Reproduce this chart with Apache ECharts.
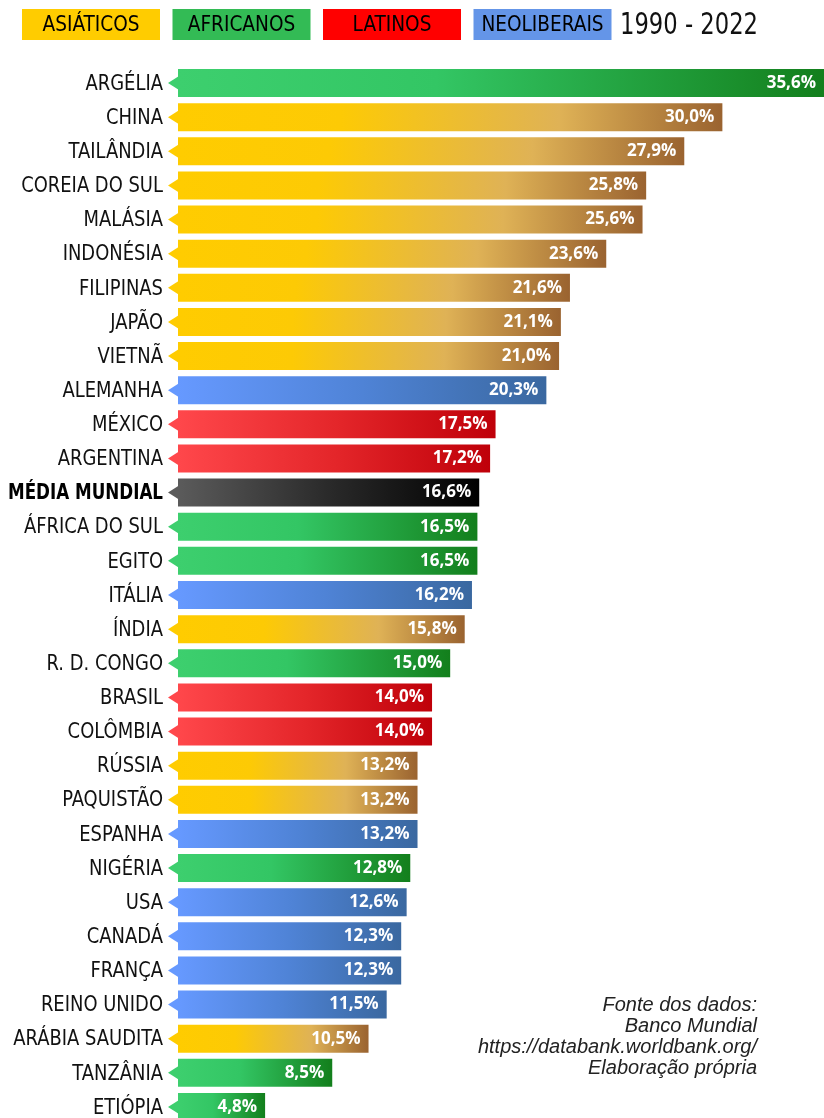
<!DOCTYPE html>
<html>
<head>
<meta charset="utf-8">
<script src="https://cdn.jsdelivr.net/npm/echarts@6/dist/echarts.min.js"></script>
<style>
html,body{margin:0;padding:0;background:#fff;overflow:hidden;}
#c{width:824px;height:1118px;}
</style>
</head>
<body>
<div id="c"></div>
<script>
const categories = ['ARGÉLIA','CHINA','TAILÂNDIA','COREIA DO SUL','MALÁSIA','INDONÉSIA','FILIPINAS','JAPÃO','VIETNÃ','ALEMANHA','MÉXICO','ARGENTINA','MÉDIA MUNDIAL','ÁFRICA DO SUL','EGITO','ITÁLIA','ÍNDIA','R. D. CONGO','BRASIL','COLÔMBIA','RÚSSIA','PAQUISTÃO','ESPANHA','NIGÉRIA','USA','CANADÁ','FRANÇA','REINO UNIDO','ARÁBIA SAUDITA','TANZÂNIA','ETIÓPIA'];
const values = [35.6,30.0,27.9,25.8,25.6,23.6,21.6,21.1,21.0,20.3,17.5,17.2,16.6,16.5,16.5,16.2,15.8,15.0,14.0,14.0,13.2,13.2,13.2,12.8,12.6,12.3,12.3,11.5,10.5,8.5,4.8];
const groups = ['AFR','ASI','ASI','ASI','ASI','ASI','ASI','ASI','ASI','NEO','LAT','LAT','MED','AFR','AFR','NEO','ASI','AFR','LAT','LAT','ASI','ASI','NEO','AFR','NEO','NEO','NEO','NEO','ASI','AFR','AFR'];
const legendNames = ['ASIÁTICOS','AFRICANOS','LATINOS','NEOLIBERAIS'];
const period = '1990 - 2022';
const sourceLines = ['Fonte dos dados:','Banco Mundial','https://databank.worldbank.org/','Elaboração própria'];

const palette = {
  ASI: [[0,'#FFCC00'],[0.3,'#FDCA05'],[0.7,'#DFB256'],[1,'#9A6330']],
  AFR: [[0,'#3DCF6E'],[0.4,'#33C664'],[1,'#137F1C']],
  LAT: [[0,'#FF474B'],[0.5,'#E4262A'],[1,'#BF0009']],
  NEO: [[0,'#6699FF'],[0.5,'#4F83D6'],[1,'#3A68A0']],
  MED: [[0,'#5B5B5B'],[0.5,'#2A2A2A'],[1,'#000000']]
};
const legendColors = ['#FFCC00','#33BB55','#FF0000','#6495E8'];

// pick a condensed font if installed, and squeeze text to the reference widths
const mctx = document.createElement('canvas').getContext('2d');
function textW(t, font){ mctx.font = font; return mctx.measureText(t).width; }
function hasFont(f){
  return textW('ABCÉMmw1290','40px monospace') !== textW('ABCÉMmw1290','40px "'+f+'", monospace');
}
const condCandidates = ['Liberation Sans Narrow','Arial Narrow','DejaVu Sans Condensed','Roboto Condensed','Open Sans Condensed'];
let labFont = 'Liberation Sans';
for (const f of condCandidates) { if (hasFont(f)) { labFont = f; break; } }
const F = (w,s)=> (w?w+' ':'') + s + 'px "' + labFont + '"';
const labScale = Math.min(1, 139 / textW('ÁFRICA DO SUL', F('',22)));
const boldScale = Math.min(1, 155 / textW('MÉDIA MUNDIAL', F('bold',22)));
const legScale = Math.min(1, 97 / textW('ASIÁTICOS', F('',22)));
const perScale = Math.min(1, 138 / textW(period, F('',30)));

function grad(g){
  return new echarts.graphic.LinearGradient(0,0,1,0, palette[g].map(s=>({offset:s[0],color:s[1]})));
}

const chart = echarts.init(document.getElementById('c'), null, {renderer:'canvas'});

const option = {
  animation:false,
  backgroundColor:'#fff',
  grid:{left:178, right:0, top:66, bottom:-6, containLabel:false, outerBoundsMode:'none'},
  xAxis:{type:'value', min:0, max:35.6, show:false},
  yAxis:{
    type:'category', data:categories, inverse:true,
    axisLine:{show:false}, axisTick:{show:false}, splitLine:{show:false},
    axisLabel:{show:false}
  },
  series:[
    {
      type:'bar', barWidth:28,
      data: values.map((v,i)=>({value:v, itemStyle:{color:grad(groups[i])}})),
      label:{
        show:true, position:'insideRight', distance:8, color:'#fff',
        fontFamily:'"Open Sans"', fontWeight:'bold', fontSize:17,
        formatter:function(p){ return p.value.toFixed(1).replace('.',',')+'%'; }
      }
    },
    {
      type:'custom',
      data: values.map((v,i)=>[0,i]),
      renderItem:function(params, api){
        const idx = api.value(1);
        const p = api.coord([0, idx]);
        const col = palette[groups[params.dataIndex]][0][1];
        const name = categories[params.dataIndex];
        const bold = name === 'MÉDIA MUNDIAL';
        return {type:'group', children:[
          {type:'polygon', shape:{points:[[p[0]+1,p[1]-7],[p[0]-10,p[1]],[p[0]+1,p[1]+7]]}, style:{fill:col}},
          {type:'text', x:p[0]-15, y:p[1]+1, scaleX:bold?boldScale:labScale,
           style:{text:name, align:'right', verticalAlign:'middle',
                  font:F(bold?'bold':'',22), fill:bold?'#000':'#111'}}
        ]};
      },
      silent:true
    }
  ]
};
chart.setOption(option);

const g = [];
legendNames.forEach((n,i)=>{
  const x = 22 + i*150.5;
  g.push({type:'rect', x:x, y:9, shape:{width:138,height:31}, style:{fill:legendColors[i]}});
  g.push({type:'text', x:x+69, y:25, scaleX:legScale, style:{text:n, align:'center', verticalAlign:'middle', font:F('',22), fill:'#000'}});
});
g.push({type:'text', x:620, y:26, scaleX:perScale, style:{text:period, align:'left', verticalAlign:'middle', font:F('',30), fill:'#111'}});
sourceLines.forEach((t,i)=>{
  g.push({type:'text', x:757, y:1005+i*21.3, style:{text:t, align:'right', verticalAlign:'middle', font:'italic 20px "Liberation Sans"', fill:'#222'}});
});
chart.setOption({graphic:g});
</script>
</body>
</html>
